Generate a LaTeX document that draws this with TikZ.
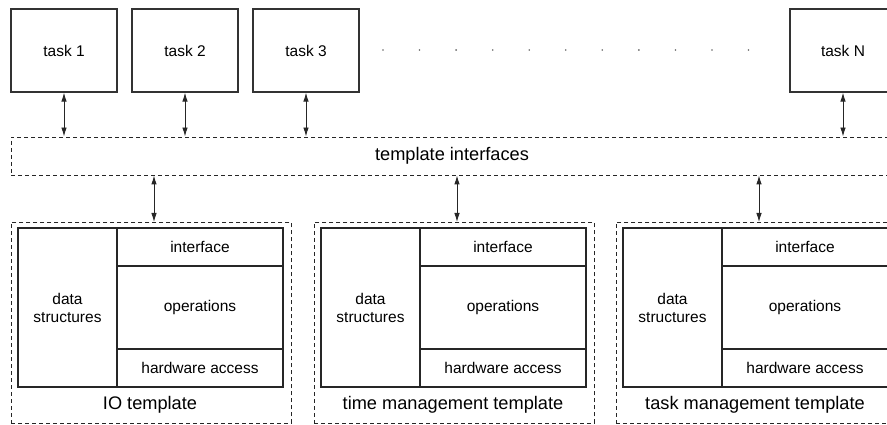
\documentclass[tikz,border=0pt]{standalone}
\usepackage{fontspec}
\setmainfont{Liberation Sans}
\usetikzlibrary{arrows.meta}
\def\cellfont{\fontsize{15.5}{18}\selectfont}
\def\bigfont{\fontsize{18.2}{22}\selectfont}
\tikzset{
  taskbox/.style={draw=black!80, line width=1.2pt, minimum width=106pt, minimum height=83pt, font=\cellfont},
  dashbox/.style={draw=black!85, line width=0.9pt, dash pattern=on 4pt off 3pt},
  cell/.style={draw=black!85, line width=1.2pt, anchor=north west, inner sep=0pt, outer sep=0pt, align=center, font=\cellfont},
  link/.style={{Latex[length=9pt,width=5.5pt]}-{Latex[length=9pt,width=5.5pt]}, line width=0.9pt, draw=black!85}
}

\begin{document}
\begin{tikzpicture}[x=1pt,y=-1pt]
      \useasboundingbox (0,0) rectangle (887,425);
      \clip (0,0) rectangle (887,425);
      \node[taskbox] (t1) at (64,50.5) {task 1};
      \node[taskbox] (t2) at (185,50.5) {task 2};
      \node[taskbox] (t3) at (306,50.5) {task 3};
      \node[taskbox] (tN) at (843,50.5) {task N};
      \foreach \i in {0,...,10}
        \fill[black!60] (383+36.55*\i,50) circle (0.9);
      \node[dashbox, minimum width=882pt, minimum height=38pt, font=\bigfont] (ifc) at (452,156) {template interfaces};
      \foreach \t in {t1,t2,t3,tN}
        \draw[link] (\t.south) -- (\t.south |- ifc.north);
      \foreach \x/\nm/\lbl in {11/io/IO template, 314/time/time management template, 616/taskm/task management template} {
        \node[dashbox, minimum width=280pt, minimum height=201pt, anchor=north west] (\nm) at (\x,222) {};
        \node[cell, minimum width=99pt, minimum height=159pt] (\nm-ds) at (\x+7,228) {data\\structures};
        \node[cell, minimum width=166pt, minimum height=38pt] (\nm-if) at (\nm-ds.north east) {interface};
        \node[cell, minimum width=166pt, minimum height=83pt] (\nm-op) at (\nm-if.south west) {operations};
        \node[cell, minimum width=166pt, minimum height=38pt] (\nm-hw) at (\nm-op.south west) {hardware access};
        \node[font=\bigfont] (\nm-lbl) at (\x+139,405) {\lbl};
        \coordinate (\nm-top) at (\x+143,222);
        \draw[link] (\nm-top |- ifc.south) -- (\nm-top);
      }
    \end{tikzpicture}
\end{document}
